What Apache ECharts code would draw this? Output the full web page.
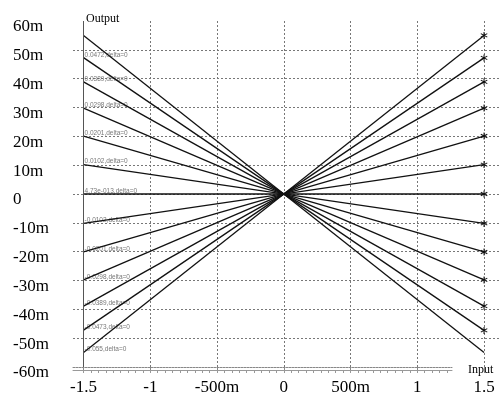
<!DOCTYPE html>
<html>
<head>
<meta charset="utf-8">
<script src="https://cdn.jsdelivr.net/npm/echarts@6/dist/echarts.min.js"></script>
<style>
  html, body { margin: 0; padding: 0; background: #fff; }
  #chart { width: 499px; height: 410px; }
</style>
</head>
<body>
<div id="chart"></div>
<script>
// output value at Input = 1.5 (left end is the mirror value at -1.5)
const endValues = [0.055, 0.0472, 0.0389, 0.0298, 0.0201, 0.0102, 4.73e-13,
  -0.0102, -0.0201, -0.0298, -0.0389, -0.0473, -0.055];
const curveLabels = ['0.0472,delta=0', '0.0389,delta=0', '0.0298,delta=0', '0.0201,delta=0',
  '0.0102,delta=0', '4.73e-013,delta=0', '-0.0102,delta=0', '-0.0201,delta=0',
  '-0.0298,delta=0', '-0.0389,delta=0', '-0.0473,delta=0', '-0.055,delta=0'];
const curveLabelValues = [0.0472, 0.0389, 0.0298, 0.0201, 0.0102, 0,
  -0.0102, -0.0201, -0.0298, -0.0389, -0.0473, -0.055];
const xTicks = [-1.5, -1, -0.5, 0, 0.5, 1, 1.5];
const xTickLabels = ['-1.5', '-1', '-500m', '0', '500m', '1', '1.5'];
const yTickLabels = ['-60m', '-50m', '-40m', '-30m', '-20m', '-10m', '0', '10m', '20m', '30m', '40m', '50m', '60m'];

const serif = '"Liberation Serif", "Times New Roman", serif';
const star = 'path://M4.3,0 L5.7,0 L5.7,10 L4.3,10 Z ' +
  'M1.02,1.89 L9.68,6.89 L8.98,8.11 L0.32,3.11 Z ' +
  'M9.68,3.11 L1.02,8.11 L0.32,6.89 L8.98,1.89 Z';

// small ticks under the double axis line (which stops before "Input")
const minorTicks = [];
for (let i = 0; i <= 49; i++) minorTicks.push(-1.5 + i / 18);

const chart = echarts.init(document.getElementById('chart'));

const series = endValues.map((v, i) => ({
  type: 'line',
  animation: false,
  lineStyle: { color: '#111', width: 1.3 },
  itemStyle: { color: '#111' },
  showSymbol: true,
  data: [
    { value: [-1.5, -v], symbol: 'none' },
    // the lowest end point sits under the "Input" label in the original
    { value: [1.5, v], symbol: i === endValues.length - 1 ? 'none' : star, symbolSize: 7 }
  ]
}));

series.push({
  type: 'scatter',
  animation: false,
  symbolSize: 0,
  data: curveLabelValues.map((v, i) => ({ value: [-1.5, v], name: curveLabels[i] })),
  label: {
    show: true,
    position: 'right',
    distance: 1,
    offset: [0, -3],
    formatter: p => p.name,
    fontSize: 6.5,
    color: '#555',
    fontFamily: '"Liberation Sans", Arial, sans-serif'
  },
  markLine: {
    silent: true,
    symbol: 'none',
    label: { show: false },
    lineStyle: { color: '#555', width: 1, type: 'solid' },
    data: [{ xAxis: -1.5 }]
  }
});

chart.setOption({
  backgroundColor: '#fff',
  grid: [
    { left: 73, right: 0, top: 21, bottom: 43 },
    { left: 73, right: 47, top: 367, bottom: 40 }
  ],
  xAxis: [{
    type: 'value',
    gridIndex: 0,
    min: -1.579,
    max: 1.612,
    axisLine: { show: false, onZero: false },
    axisTick: { show: true, customValues: xTicks, length: 6, lineStyle: { color: '#888' } },
    axisLabel: {
      customValues: xTicks,
      margin: 12,
      color: '#000',
      fontSize: 17,
      fontFamily: serif,
      formatter: v => xTickLabels[xTicks.indexOf(Math.round(v * 10) / 10)]
    },
    splitLine: { show: true, lineStyle: { color: '#777', type: [2, 2] } }
  }, {
    type: 'value',
    gridIndex: 1,
    position: 'top',
    min: -1.579,
    max: 1.26,
    axisLine: { show: true, onZero: false, lineStyle: { color: '#888', type: [2, 1] } },
    axisTick: { show: false },
    axisLabel: { show: false },
    splitLine: { show: false }
  }, {
    type: 'value',
    gridIndex: 1,
    position: 'bottom',
    min: -1.579,
    max: 1.26,
    axisLine: { show: true, onZero: false, lineStyle: { color: '#999' } },
    axisTick: { show: true, customValues: minorTicks, length: 3, lineStyle: { color: '#999' } },
    axisLabel: { show: false },
    splitLine: { show: false },
    name: 'Input',
    nameLocation: 'end',
    nameGap: 16,
    nameTextStyle: {
      align: 'left',
      verticalAlign: 'middle',
      fontFamily: serif,
      fontSize: 12,
      color: '#000',
      padding: [0, 0, 6, 0]
    }
  }],
  yAxis: [{
    type: 'value',
    gridIndex: 0,
    min: -0.06,
    max: 0.06,
    interval: 0.01,
    axisLine: { show: false, onZero: false },
    axisTick: { show: false },
    axisLabel: {
      margin: 60,
      align: 'left',
      verticalAlign: 'top',
      lineHeight: 12,
      color: '#000',
      fontSize: 17,
      fontFamily: serif,
      formatter: v => yTickLabels[Math.round(v * 100) + 6]
    },
    splitLine: { show: true, showMaxLine: false, showMinLine: false, lineStyle: { color: '#777', type: [2, 2] } },
    name: 'Output',
    nameLocation: 'end',
    nameGap: 2,
    nameTextStyle: {
      align: 'left',
      verticalAlign: 'middle',
      fontFamily: serif,
      fontSize: 12,
      color: '#000',
      padding: [0, 0, 0, 13]
    }
  }, {
    type: 'value',
    gridIndex: 1,
    show: false
  }],
  series: series
});
</script>
</body>
</html>
